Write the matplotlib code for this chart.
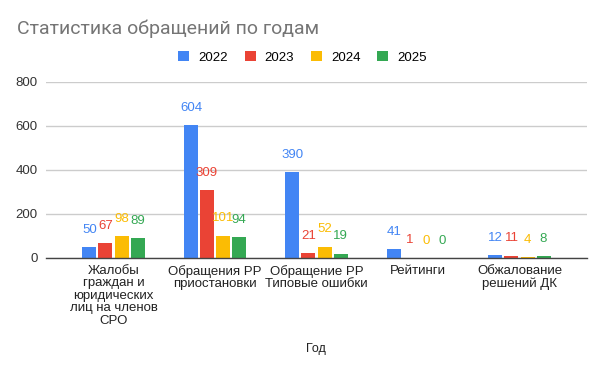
import numpy as np
import matplotlib.pyplot as plt

plt.rcParams['font.family'] = ['Liberation Sans', 'DejaVu Sans']

# data
categories = ['Жалобы\nграждан и\nюридических\nлиц на членов\nСРО',
              'Обращения РР\nприостановки',
              'Обращение РР\nТиповые ошибки',
              'Рейтинги',
              'Обжалование\nрешений ДК']
years = ['2022', '2023', '2024', '2025']
v2022 = [50, 604, 390, 41, 12]
v2023 = [67, 309, 21, 1, 11]
v2024 = [98, 101, 52, 0, 4]
v2025 = [89, 94, 19, 0, 8]
yticks = [0, 200, 400, 600, 800]

series = [v2022, v2023, v2024, v2025]
colors = ['#4285F4', '#EA4335', '#FBBC04', '#34A853']

fig = plt.figure(figsize=(6.06, 3.75), dpi=100)
ax = fig.add_axes([46 / 606, 117 / 375, 541 / 606, 176 / 375])

x = np.arange(len(categories))
pitch = 0.158
width = 0.138
for i, (vals, col, yr) in enumerate(zip(series, colors, years)):
    pos = x + (i - 1.5) * pitch
    ax.bar(pos, vals, width=width, color=col, label=yr, zorder=3)
    for px, v in zip(pos, vals):
        ax.annotate(str(v), (px, v), xytext=(0, 12.5), textcoords='offset points',
                    ha='center', va='center', color=col, fontsize=9.5)

ax.set_xlim(-0.665, 4.665)
ax.set_ylim(0, 800)
ax.set_yticks(yticks)
ax.set_yticklabels([str(t) for t in yticks], fontsize=9.5, color='#333333')
ax.set_xticks(x)
ax.set_xticklabels(categories, fontsize=9.5, color='#222222', linespacing=1.05)
ax.tick_params(length=0, pad=6)
ax.tick_params(axis='x', pad=5)
ax.grid(axis='y', color='#cccccc', linewidth=1, zorder=0)
for s in ['top', 'right', 'left']:
    ax.spines[s].set_visible(False)
ax.spines['bottom'].set_color('#444444')
ax.spines['bottom'].set_linewidth(1)
ax.spines['bottom'].set_zorder(4)

fig.text(17 / 606, 1 - 29 / 375, 'Статистика обращений по годам', fontsize=14,
         color='#757575', va='center', ha='left', family='Roboto')

ax.legend(loc='center', bbox_to_anchor=((302.5 - 46) / 541, (375 - 57.5 - 117) / 176), ncol=4,
          frameon=False, fontsize=9.5, handlelength=0.83, handleheight=0.83,
          handletextpad=0.68, columnspacing=1.29)

fig.text(316 / 606, 1 - 349 / 375, 'Год', fontsize=9, color='#222222',
         ha='center', va='center')

plt.savefig('out.png', dpi=100)
plt.close()
